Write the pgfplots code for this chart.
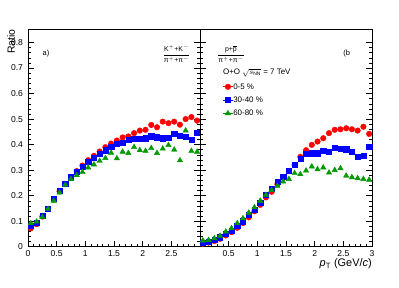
\documentclass[border=0pt]{standalone}
\usepackage{pgfplots}
\pgfplotsset{compat=1.18}
\usepackage{fontspec}
\setmainfont{Liberation Sans}

\definecolor{rootred}{RGB}{255,0,0}
\definecolor{rootblue}{RGB}{0,0,255}
\definecolor{rootgreen}{RGB}{0,153,0}

\pgfplotstableread{
x red blue green
0.05 0.072 0.081 0.092
0.15 0.088 0.094 0.098
0.25 0.118 0.120 0.116
0.35 0.148 0.150 0.148
0.45 0.185 0.187 0.180
0.55 0.217 0.218 0.212
0.65 0.245 0.246 0.242
0.75 0.272 0.272 0.265
0.85 0.296 0.294 0.280
0.95 0.318 0.314 0.292
1.05 0.339 0.333 0.310
1.15 0.356 0.350 0.322
1.25 0.373 0.364 0.336
1.35 0.390 0.378 0.347
1.45 0.404 0.392 0.368
1.55 0.416 0.403 0.346
1.65 0.428 0.408 0.372
1.75 0.432 0.420 0.367
1.85 0.445 0.422 0.390
1.95 0.455 0.422 0.378
2.05 0.458 0.425 0.375
2.15 0.477 0.433 0.386
2.25 0.468 0.429 0.367
2.35 0.490 0.425 0.384
2.45 0.484 0.426 0.398
2.55 0.490 0.442 0.380
2.65 0.478 0.434 0.338
2.75 0.500 0.430 0.455
2.85 0.508 0.420 0.375
2.95 0.494 0.448 0.372
}\kpi

\pgfplotstableread{
x red blue green
0.05 0.012 0.016 0.024
0.15 0.016 0.020 0.026
0.25 0.022 0.026 0.033
0.35 0.031 0.037 0.042
0.45 0.044 0.050 0.059
0.55 0.057 0.064 0.072
0.65 0.074 0.081 0.092
0.75 0.093 0.100 0.111
0.85 0.115 0.124 0.133
0.95 0.139 0.146 0.154
1.05 0.164 0.172 0.180
1.15 0.193 0.203 0.203
1.25 0.215 0.228 0.222
1.35 0.245 0.255 0.238
1.45 0.270 0.275 0.255
1.55 0.296 0.298 0.265
1.65 0.320 0.320 0.288
1.75 0.352 0.345 0.284
1.85 0.378 0.364 0.298
1.95 0.399 0.366 0.314
2.05 0.412 0.366 0.303
2.15 0.425 0.375 0.310
2.25 0.445 0.373 0.290
2.35 0.458 0.388 0.300
2.45 0.460 0.383 0.307
2.55 0.464 0.382 0.278
2.65 0.460 0.373 0.272
2.75 0.455 0.353 0.268
2.85 0.470 0.357 0.265
2.95 0.442 0.392 0.262
}\ppi

\pgfplotsset{
 panel/.style={
  scale only axis, width=172bp, height=217.7bp,
  xmin=0, xmax=3, ymin=0, ymax=0.853,
  xtick={0,0.5,1,1.5,2,2.5,3}, minor x tick num=4,
  ytick={0,0.1,0.2,0.3,0.4,0.5,0.6,0.7,0.8}, minor y tick num=4,
  tick align=inside, xtick pos=bottom, ytick pos=both,
  major tick length=6bp, minor tick length=3bp,
  axis line style={line width=0.6bp},
  every tick/.style={black, line width=0.5bp},
  tick label style={font=\fontsize{8.6}{10}\selectfont},
  /pgf/number format/assume math mode=true,
  yticklabel style={/pgf/number format/fixed, /pgf/number format/precision=1, xshift=-1.5bp},
  clip=false,
 },
 sred/.style={only marks, mark=*, mark size=2.8bp, color=rootred, mark options={solid}},
 sblue/.style={only marks, mark=square*, mark size=2.6bp, color=rootblue, mark options={solid}},
 sgreen/.style={only marks, mark=triangle*, mark size=3.1bp, color=rootgreen, mark options={solid}},
}

\begin{document}
\begin{tikzpicture}
\useasboundingbox (0,0) rectangle (399bp,288bp);
% left panel
\begin{axis}[panel, at={(28bp,41.3bp)}, anchor=south west,
  xticklabels={0,0.5,1,1.5,2,2.5,{}},
  ylabel={Ratio},
  ylabel style={at={(rel axis cs:-0.074,1)}, anchor=south east, inner sep=0pt, font=\fontsize{10.5}{12}\selectfont},
]
\addplot[sred] table[x=x,y=red] {\kpi};
\addplot[sblue] table[x=x,y=blue] {\kpi};
\addplot[sgreen] table[x=x,y=green] {\kpi};
\node[font=\fontsize{7.5}{9}\selectfont] at (axis cs:0.315,0.758) {a)};
\node[font=\fontsize{7}{8}\selectfont, inner sep=0pt] at (axis cs:2.59,0.755)
  {$\displaystyle\frac{\mbox{K}^{+}\mbox{+K}^{-}}{\mbox{π}^{+}\mbox{+π}^{-}}$};
\end{axis}
% right panel
\begin{axis}[panel, at={(200bp,41.3bp)}, anchor=south west,
  xticklabels={{},0.5,1,1.5,2,2.5,3},
  yticklabels={},
  xlabel={\textit{p}\textsubscript{T} (GeV/\textit{c})},
  xlabel style={at={(rel axis cs:1,0)}, anchor=north east, yshift=-12bp, inner sep=0pt, font=\fontsize{11}{13}\selectfont},
  legend cell align=left,
  legend image code/.code={\draw[#1,line width=0.7bp] (0bp,0bp) -- (10bp,0bp); \path[#1] plot coordinates {(5bp,0bp)};},
  legend style={at={(axis cs:0.39,0.642)}, anchor=north west, draw=none, fill=none,
    inner sep=0pt, row sep=5.8bp, font=\fontsize{8}{9}\selectfont,
    nodes={inner sep=0pt, text height=6bp, text depth=1.5bp},
    /tikz/every even column/.append style={column sep=3bp}},
]
\addplot[sred] table[x=x,y=red] {\ppi};
\addlegendentry{0-5 \%}
\addplot[sblue] table[x=x,y=blue] {\ppi};
\addlegendentry{30-40 \%}
\addplot[sgreen] table[x=x,y=green] {\ppi};
\addlegendentry{60-80 \%}
\node[font=\fontsize{7.5}{9}\selectfont] at (axis cs:2.56,0.758) {(b};
\node[font=\fontsize{7}{8}\selectfont, inner sep=0pt] at (axis cs:0.54,0.755)
  {$\displaystyle\frac{\mbox{p+}\overline{\mbox{p}}}{\mbox{π}^{+}\mbox{+π}^{-}}$};
\node[font=\fontsize{8}{9}\selectfont, anchor=west, inner sep=0pt] at (axis cs:0.40,0.68)
  {O+O $\sqrt{s_{\mbox{\fontsize{5}{5}\selectfont NN}}}$ = 7 TeV};
\end{axis}
\end{tikzpicture}
\end{document}
